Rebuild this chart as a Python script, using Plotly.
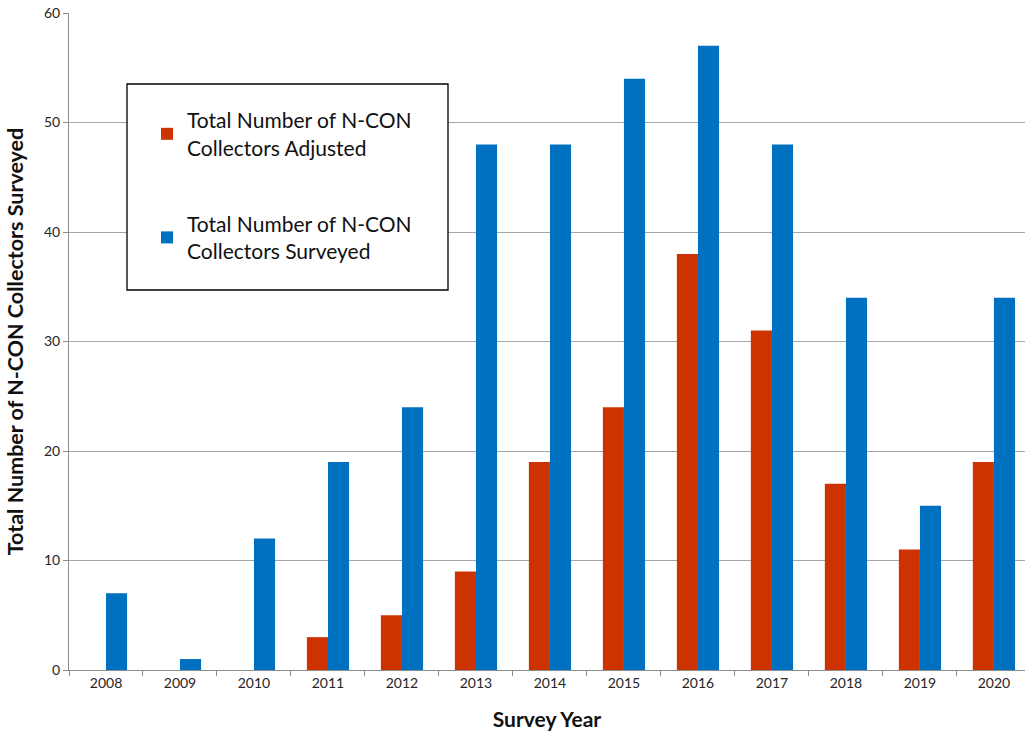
import plotly.graph_objects as go

years = ["2008", "2009", "2010", "2011", "2012", "2013", "2014",
         "2015", "2016", "2017", "2018", "2019", "2020"]
adjusted = [0, 0, 0, 3, 5, 9, 19, 24, 38, 31, 17, 11, 19]
surveyed = [7, 1, 12, 19, 24, 48, 48, 54, 57, 48, 34, 15, 34]

name_adj = "Total Number of N-CON<br>Collectors Adjusted"
name_sur = "Total Number of N-CON<br>Collectors Surveyed"

FONT = "Lato"
RED = "#CC3300"
BLUE = "#0070C0"

fig = go.Figure()
fig.add_trace(go.Bar(x=years, y=adjusted, name=name_adj, marker_color=RED,
                     marker_line_width=0, legendgroup="a"))
fig.add_trace(go.Bar(x=years, y=surveyed, name=name_sur, marker_color=BLUE,
                     marker_line_width=0, legendgroup="b"))

L, R, T, B = 69, 0, 13, 65
W, H = 1025, 735
pw, ph = W - L - R, H - T - B

def px(x):
    return (x - L) / pw

def py(y):
    return (H - B - y) / ph

fig.add_shape(type="rect", xref="paper", yref="paper",
              x0=px(127), x1=px(448), y0=py(290), y1=py(84),
              line=dict(color="black", width=1.3), fillcolor="white", layer="above")

fig.update_layout(
    width=W, height=H,
    margin=dict(l=L, r=R, t=T, b=B, autoexpand=False),
    paper_bgcolor="white", plot_bgcolor="white",
    barmode="group", bargap=0.43, bargroupgap=0,
    font=dict(family=FONT, color="#262626"),
    showlegend=True,
    legend=dict(x=px(147), y=py(100), xanchor="left", yanchor="top",
                bgcolor="rgba(0,0,0,0)", borderwidth=0,
                font=dict(family=FONT, size=21, color="#111"),
                tracegroupgap=46, traceorder="grouped"),
    xaxis=dict(type="category", range=[-0.5, 12.42], automargin=False,
               showline=True, linecolor="#8C8C8C", linewidth=1,
               ticks="outside", tickson="boundaries", ticklen=5, tickcolor="#8C8C8C",
               showgrid=False, tickfont=dict(size=14, color="#262626"),
               title=dict(text="<b>Survey Year</b>", font=dict(size=21, color="#111"), standoff=22)),
    yaxis=dict(range=[0, 60], dtick=10, automargin=False,
               showline=True, linecolor="#8C8C8C", linewidth=1,
               ticks="outside", ticklen=5, tickcolor="#8C8C8C",
               ticklabeloverflow="allow",
               showgrid=True, gridcolor="#A6A6A6", gridwidth=1,
               zeroline=False, tickfont=dict(size=14, color="#262626"),
               title=dict(text="<b>Total Number of N-CON Collectors Surveyed</b>",
                          font=dict(size=21.5, color="#111"), standoff=14)),
)

fig.write_html("out.html", config={"displayModeBar": False},
               post_script="document.body.style.margin='0';")
